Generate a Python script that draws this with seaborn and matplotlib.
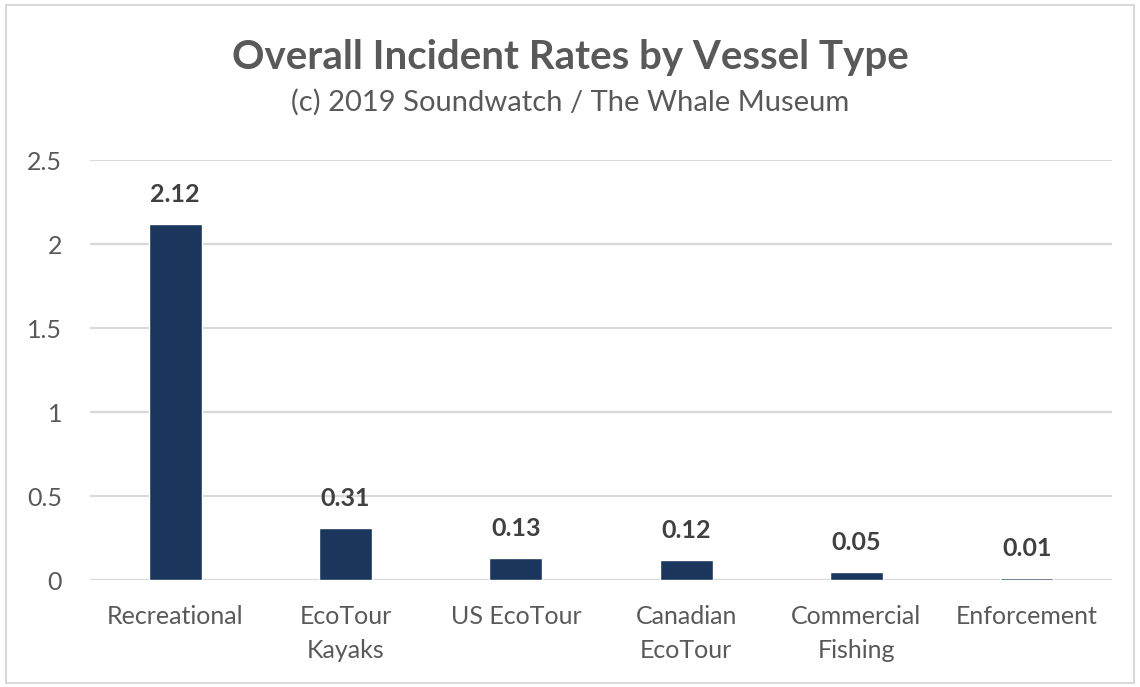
import matplotlib
matplotlib.use("Agg")
import matplotlib.pyplot as plt
import seaborn as sns
import pandas as pd
from matplotlib.patches import Rectangle

categories = ["Recreational", "EcoTour\nKayaks", "US EcoTour", "Canadian\nEcoTour", "Commercial\nFishing", "Enforcement"]
values = [2.12, 0.31, 0.13, 0.12, 0.05, 0.01]
value_labels = ["2.12", "0.31", "0.13", "0.12", "0.05", "0.01"]
yticks = [0, 0.5, 1, 1.5, 2, 2.5]
ytick_labels = ["0", "0.5", "1", "1.5", "2", "2.5"]

sns.set_theme(style="white")
plt.rcParams['font.family'] = ['Lato', 'DejaVu Sans']

df = pd.DataFrame({"cat": categories, "val": values})

fig = plt.figure(figsize=(11.4, 6.87), dpi=100)
ax = fig.add_axes([90/1140, 1 - 580/687, (1112-90)/1140, (580-160)/687])

sns.barplot(data=df, x="cat", y="val", color="#1A365D", width=0.31, ax=ax, saturation=1)

ax.set_ylim(0, 2.5)
ax.set_yticks(yticks)
ax.set_yticklabels(ytick_labels)
ax.yaxis.grid(True, color="#D9D9D9", linewidth=1.6)
ax.set_axisbelow(True)
for s in ax.spines.values():
    s.set_visible(False)
ax.set_xlabel("")
ax.set_ylabel("")
ax.tick_params(axis="both", length=0, labelsize=18, colors="#595959")
ax.tick_params(axis="x", pad=18)
ax.tick_params(axis="y", pad=20)
for lbl in ax.get_xticklabels():
    lbl.set_linespacing(1.6)

for i, (v, t) in enumerate(zip(values, value_labels)):
    ax.annotate(t, (i, v), xytext=(0, 13), textcoords="offset points",
                ha="center", va="bottom", fontsize=18, fontweight="bold", color="#404040")

fig.text(0.5, 1 - 58/687, "Overall Incident Rates by Vessel Type", ha="center", va="center",
         fontsize=29, fontweight="bold", color="#595959")
fig.text(0.5, 1 - 102/687, "(c) 2019 Soundwatch / The Whale Museum", ha="center", va="center",
         fontsize=21, color="#595959")

fig.patches.append(Rectangle((6/1140, 4/687), 1128/1140, 678/687, transform=fig.transFigure,
                             fill=False, edgecolor="#D9D9D9", linewidth=1.5))

fig.savefig("out.png", dpi=100)
